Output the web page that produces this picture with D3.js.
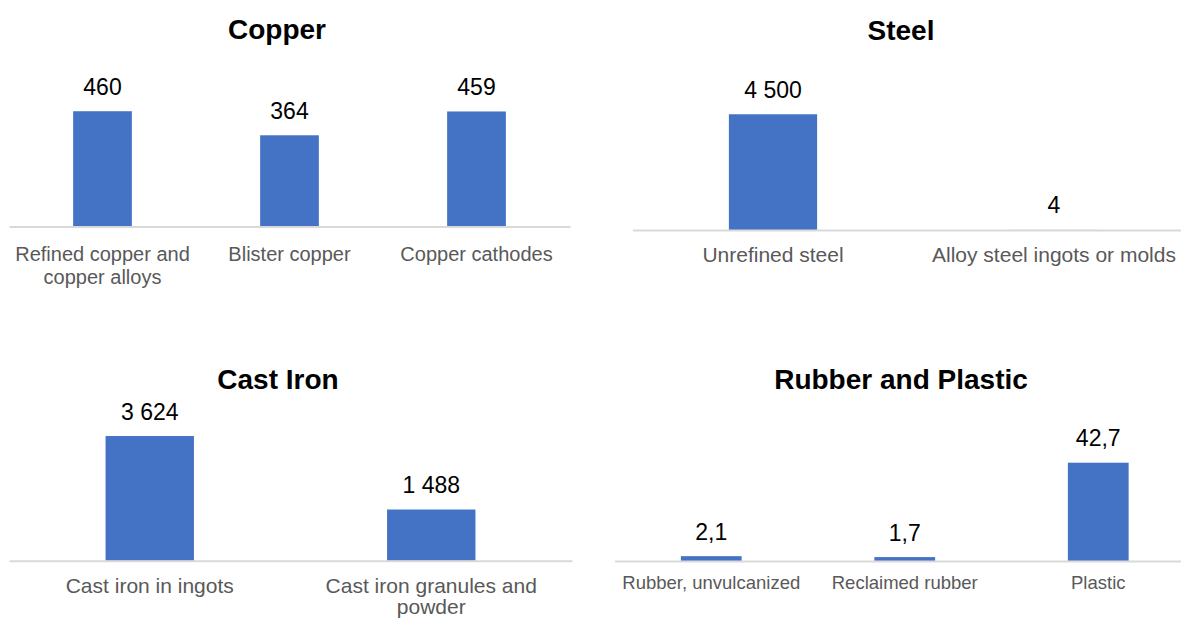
<!DOCTYPE html>
<html>
<head>
<meta charset="utf-8">
<script src="https://cdn.jsdelivr.net/npm/d3@7"></script>
<style>
  html, body { margin: 0; padding: 0; background: #ffffff; }
  svg { display: block; font-family: "Liberation Sans", Arial, sans-serif; }
</style>
</head>
<body>
<svg id="chart" width="1181" height="619"></svg>
<script>
// ---- Data ----
const copperCategories = ["Refined copper and copper alloys", "Blister copper", "Copper cathodes"];
const copperValues = [460, 364, 459];

const steelCategories = ["Unrefined steel", "Alloy steel ingots or molds"];
const steelValues = [4500, 4];

const castIronCategories = ["Cast iron in ingots", "Cast iron granules and powder"];
const castIronValues = [3624, 1488];

const rubberPlasticCategories = ["Rubber, unvulcanized", "Reclaimed rubber", "Plastic"];
const rubberPlasticValues = [2.1, 1.7, 42.7];

// Number formatting: space as thousands separator, comma as decimal mark
const locale = d3.formatLocale({ decimal: ",", thousands: " ", grouping: [3], currency: ["", ""] });
const fmtInt = locale.format(",d");
const fmtDec = locale.format(",.1f");

// ---- Panel layout ----
const panels = [
  { title: "Copper", categories: copperCategories, values: copperValues, fmt: fmtInt,
    xRange: [9, 570], axisY: 226.5, yMax: 500, plotH: 125.3,
    titleX: 277, titleY: 38.5, labelSize: 20, labelOffset: 34, lineH: 23 },
  { title: "Steel", categories: steelCategories, values: steelValues, fmt: fmtInt,
    xRange: [632.5, 1194.5], axisY: 230, yMax: 5000, plotH: 128.6,
    titleX: 901, titleY: 40, labelSize: 21, labelOffset: 32, lineH: 23 },
  { title: "Cast Iron", categories: castIronCategories, values: castIronValues, fmt: fmtInt,
    xRange: [9, 572], axisY: 560.7, yMax: 4000, plotH: 137.6,
    titleX: 278, titleY: 388.5, labelSize: 21, labelOffset: 32, lineH: 21.5 },
  { title: "Rubber and Plastic", categories: rubberPlasticCategories, values: rubberPlasticValues, fmt: fmtDec,
    xRange: [614.5, 1195], axisY: 561, yMax: 50, plotH: 115.1,
    titleX: 901, titleY: 388.5, labelSize: 18.5, labelOffset: 27.5, lineH: 21 }
];

const svg = d3.select("#chart");
const barColor = "#4472C4";

panels.forEach(p => {
  const g = svg.append("g");

  const x = d3.scaleBand()
    .domain(p.categories)
    .range(p.xRange)
    .paddingInner(0.686)
    .paddingOuter(0.343);

  const y = d3.scaleLinear()
    .domain([0, p.yMax])
    .range([p.axisY, p.axisY - p.plotH]);

  const rows = p.categories.map((c, i) => ({ category: c, value: p.values[i] }));

  // Title
  g.append("text")
    .attr("x", p.titleX)
    .attr("y", p.titleY)
    .attr("text-anchor", "middle")
    .attr("font-size", 28)
    .attr("font-weight", "bold")
    .attr("fill", "#000000")
    .text(p.title);

  // Bars
  g.selectAll("rect.bar")
    .data(rows)
    .join("rect")
    .attr("class", "bar")
    .attr("x", d => x(d.category))
    .attr("width", x.bandwidth())
    .attr("y", d => y(d.value))
    .attr("height", d => y(0) - y(d.value))
    .attr("fill", barColor);

  // Category axis baseline
  const axis = d3.axisBottom(x).tickSize(0).tickSizeOuter(0).tickFormat("");
  const axisG = g.append("g")
    .attr("transform", `translate(0,${p.axisY})`)
    .call(axis);
  axisG.select(".domain")
    .attr("stroke", "#d9d9d9")
    .attr("stroke-width", 2);
  axisG.selectAll(".tick").remove();

  // Value labels above the bars
  g.selectAll("text.value")
    .data(rows)
    .join("text")
    .attr("class", "value")
    .attr("x", d => x(d.category) + x.bandwidth() / 2)
    .attr("y", d => y(d.value) - 16.5)
    .attr("text-anchor", "middle")
    .attr("font-size", 23)
    .attr("fill", "#000000")
    .text(d => p.fmt(d.value));

  // Category labels, wrapped to the band width
  const maxW = x.step() - 6;
  const labels = g.selectAll("text.cat")
    .data(rows)
    .join("text")
    .attr("class", "cat")
    .attr("text-anchor", "middle")
    .attr("font-size", p.labelSize)
    .attr("fill", "#595959");

  labels.each(function(d) {
    const t = d3.select(this);
    const cx = x(d.category) + x.bandwidth() / 2;
    const words = d.category.split(" ");
    let line = [];
    let lineNo = 0;
    let tspan = t.append("tspan").attr("x", cx).attr("y", p.axisY + p.labelOffset);
    words.forEach(w => {
      line.push(w);
      tspan.text(line.join(" "));
      if (tspan.node().getComputedTextLength() > maxW && line.length > 1) {
        line.pop();
        tspan.text(line.join(" "));
        line = [w];
        lineNo += 1;
        tspan = t.append("tspan")
          .attr("x", cx)
          .attr("y", p.axisY + p.labelOffset + lineNo * p.lineH)
          .text(w);
      }
    });
  });
});
</script>
</body>
</html>
